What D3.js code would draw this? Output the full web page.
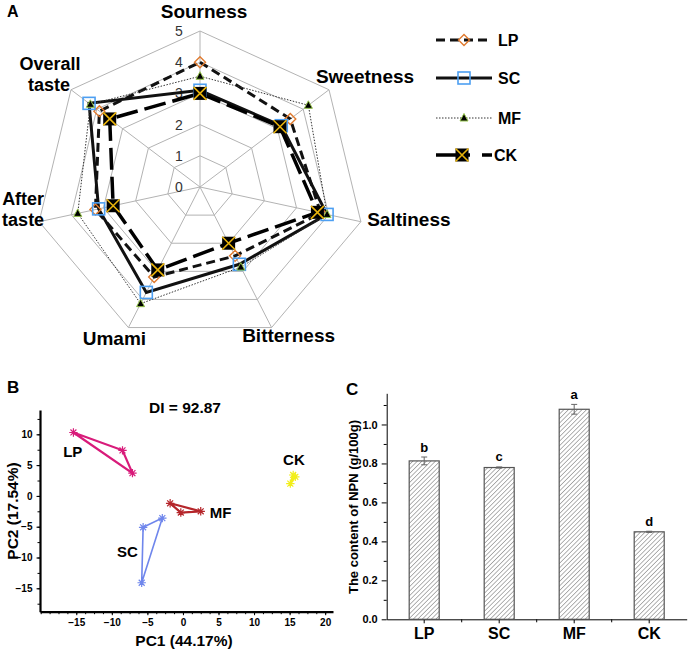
<!DOCTYPE html>
<html>
<head>
<meta charset="utf-8">
<script src="https://cdn.jsdelivr.net/npm/d3@7/dist/d3.min.js"></script>
<style>
body { margin: 0; background: #fff; }
text { font-family: "Liberation Sans", Arial, sans-serif; }
</style>
</head>
<body>
<div id="fig"></div>
<script>
// ---- data ----
var tasteAxes = ["Sourness", "Sweetness", "Saltiness", "Bitterness", "Umami", "After taste", "Overall taste"];
var radarTicks = [0, 1, 2, 3, 4, 5];
var tasteLP = [4.0, 3.5, 3.75, 2.45, 3.2, 3.25, 3.9];
var tasteSC = [3.1, 3.15, 3.95, 2.75, 3.75, 3.15, 4.3];
var tasteMF = [3.55, 4.2, 3.95, 2.85, 4.15, 3.8, 4.25];
var tasteCK = [3.0, 3.1, 3.65, 2.0, 2.95, 2.7, 3.5];

var pcaLP = [[-15.4, 10.3], [-8.5, 7.4], [-7.1, 3.7]];
var pcaSC = [[-5.6, -5.1], [-2.9, -3.6], [-5.8, -14.1]];
var pcaMF = [[-1.8, -1.2], [-0.3, -2.7], [2.5, -2.5]];
var pcaCK = [[15.1, 2.0], [15.8, 3.1], [15.5, 3.4]];
var pcaXTicks = [-15, -10, -5, 0, 5, 10, 15, 20];
var pcaYTicks = [-15, -10, -5, 0, 5, 10];

var groups = ["LP", "SC", "MF", "CK"];
var npn = [0.813, 0.779, 1.078, 0.449];
var npnErr = [0.02, 0.003, 0.025, 0.003];
var npnLetters = ["b", "c", "a", "d"];
var npnTicks = [0, 0.2, 0.4, 0.6, 0.8, 1.0];

var svg = d3.select("#fig").append("svg")
    .attr("width", 689)
    .attr("height", 652);

// ================= A : radar =================
var cx = 200, cy = 187, rx = 165, ry = 156;
var rScale = d3.scaleLinear().domain([0, 5]).range([0, 1]);

function pt(i, v) {
  var a = i * 2 * Math.PI / 7;
  return [cx + rx * rScale(v) * Math.sin(a), cy - ry * rScale(v) * Math.cos(a)];
}

var gA = svg.append("g");

// rings
radarTicks.slice(1).forEach(function(t) {
  gA.append("polygon")
    .attr("points", tasteAxes.map(function(d, i) { return pt(i, t).join(","); }).join(" "))
    .attr("fill", "none")
    .attr("stroke", "#b3b3b3")
    .attr("stroke-width", 1);
});
// spokes
tasteAxes.forEach(function(d, i) {
  var p = pt(i, 5);
  gA.append("line")
    .attr("x1", cx).attr("y1", cy)
    .attr("x2", p[0]).attr("y2", p[1])
    .attr("stroke", "#b3b3b3")
    .attr("stroke-width", 1);
});
// tick labels
gA.selectAll(".rtick")
  .data(radarTicks)
  .enter().append("text")
  .attr("x", cx - 21)
  .attr("y", function(d) { return pt(0, d)[1] + 5; })
  .attr("text-anchor", "middle")
  .style("font-size", "14px")
  .style("fill", "#333")
  .text(function(d) { return d; });

// axis labels (offsets from outer vertex)
var labelOff = [
  [{dx: 4, dy: -13, t: "Sourness"}],
  [{dx: 36, dy: -7, t: "Sweetness"}],
  [{dx: 48, dy: 4, t: "Saltiness"}],
  [{dx: 17, dy: 14, t: "Bitterness"}],
  [{dx: -14, dy: 17, t: "Umami"}],
  [{dx: -16, dy: -17, t: "After"}, {dx: -16, dy: 4, t: "taste"}],
  [{dx: -21, dy: -20, t: "Overall"}, {dx: -22, dy: 1, t: "taste"}]
];
tasteAxes.forEach(function(d, i) {
  var p = pt(i, 5);
  labelOff[i].forEach(function(o) {
    gA.append("text")
      .attr("x", p[0] + o.dx)
      .attr("y", p[1] + o.dy)
      .attr("text-anchor", "middle")
      .style("font-size", labelOff[i].length > 1 ? "18px" : "19px")
      .style("font-weight", "bold")
      .text(o.t);
  });
});

var series = [
  {name: "LP", values: tasteLP, dash: "9,5", width: 3, color: "#111", marker: "diamond"},
  {name: "SC", values: tasteSC, dash: null, width: 3, color: "#111", marker: "square"},
  {name: "MF", values: tasteMF, dash: "1.5,1.5", width: 1, color: "#333", marker: "triangle"},
  {name: "CK", values: tasteCK, dash: "22,7", width: 3.5, color: "#000", marker: "cross"}
];

function drawMarker(g, type, x, y) {
  if (type == "diamond") {
    g.append("path")
      .attr("d", "M" + x + "," + (y - 5.5) + "L" + (x + 5.5) + "," + y + "L" + x + "," + (y + 5.5) + "L" + (x - 5.5) + "," + y + "Z")
      .attr("fill", "none")
      .attr("stroke", "#e07a2e")
      .attr("stroke-width", 1.4);
  } else if (type == "square") {
    g.append("rect")
      .attr("x", x - 6).attr("y", y - 6)
      .attr("width", 12).attr("height", 12)
      .attr("fill", "none")
      .attr("stroke", "#4d9ff2")
      .attr("stroke-width", 1.6);
  } else if (type == "triangle") {
    g.append("path")
      .attr("d", "M" + x + "," + (y - 4.5) + "L" + (x + 4) + "," + (y + 3) + "L" + (x - 4) + "," + (y + 3) + "Z")
      .attr("fill", "#000")
      .attr("stroke", "#94c34a")
      .attr("stroke-width", 1);
  } else {
    g.append("rect")
      .attr("x", x - 6.5).attr("y", y - 6.5)
      .attr("width", 13).attr("height", 13)
      .attr("fill", "#000");
    g.append("path")
      .attr("d", "M" + (x - 6.5) + "," + (y - 6.5) + "L" + (x + 6.5) + "," + (y + 6.5) + "M" + (x + 6.5) + "," + (y - 6.5) + "L" + (x - 6.5) + "," + (y + 6.5))
      .attr("stroke", "#e8b30c")
      .attr("stroke-width", 1.6);
  }
}

var radarLine = d3.line().curve(d3.curveLinearClosed);

series.forEach(function(s) {
  var pts = s.values.map(function(v, i) { return pt(i, v); });
  gA.append("path")
    .attr("d", radarLine(pts))
    .attr("fill", "none")
    .attr("stroke", s.color)
    .attr("stroke-width", s.width)
    .attr("stroke-dasharray", s.dash);
});
series.forEach(function(s) {
  s.values.forEach(function(v, i) {
    var p = pt(i, v);
    drawMarker(gA, s.marker, p[0], p[1]);
  });
});

// legend
var legY = [40, 78, 118, 155];
series.forEach(function(s, i) {
  var y = legY[i];
  gA.append("line")
    .attr("x1", 436).attr("x2", 492)
    .attr("y1", y).attr("y2", y)
    .attr("stroke", s.color)
    .attr("stroke-width", s.width)
    .attr("stroke-dasharray", s.name == "CK" ? "34,12" : s.dash);
  drawMarker(gA, s.marker, s.name == "CK" ? 462 : 464, y);
  gA.append("text")
    .attr("x", s.name == "CK" ? 494 : 498)
    .attr("y", y + 6)
    .style("font-size", "16px")
    .style("font-weight", "bold")
    .text(s.name);
});

svg.append("text").attr("x", 7).attr("y", 17)
  .style("font-size", "16px").style("font-weight", "bold").text("A");

// ================= B : PCA =================
var gB = svg.append("g");
var xB = d3.scaleLinear().domain([-20.1, 21.1]).range([40, 333]);
var yB = d3.scaleLinear().domain([-18.8, 13.95]).range([611.7, 410]);

gB.append("g")
  .attr("transform", "translate(0,611.7)")
  .call(d3.axisBottom(xB).tickValues(d3.range(-20, 21.1, 1.25)).tickSize(2.5).tickFormat(""))
  .call(function(g) { g.select(".domain").remove(); });
gB.append("g")
  .attr("transform", "translate(40,0)")
  .call(d3.axisLeft(yB).tickValues(d3.range(-17.5, 13.9, 2.5)).tickSize(2.5).tickFormat(""))
  .call(function(g) { g.select(".domain").remove(); });

var axB = gB.append("g")
  .attr("transform", "translate(0,611.7)")
  .call(d3.axisBottom(xB).tickValues(pcaXTicks).tickSize(3.5).tickPadding(4).tickSizeOuter(0));
var ayB = gB.append("g")
  .attr("transform", "translate(40,0)")
  .call(d3.axisLeft(yB).tickValues(pcaYTicks).tickSize(3.5).tickPadding(4).tickSizeOuter(0));
[axB, ayB].forEach(function(a) {
  a.select(".domain").attr("stroke-width", 2.2);
  a.selectAll("text").style("font-size", "10px").style("font-weight", "bold").style("fill", "#000");
  a.selectAll(".tick line").attr("stroke-width", 1);
});

var pcaSets = [
  {name: "LP", pts: pcaLP, color: "#d81b7a", w: 2.2, lab: [-15.5, 6.3]},
  {name: "SC", pts: pcaSC, color: "#6f86ec", w: 1.6, lab: [-7.8, -9.9]},
  {name: "MF", pts: pcaMF, color: "#b5262b", w: 2.2, lab: [5.3, -3.6]},
  {name: "CK", pts: pcaCK, color: "#f2ee1a", w: 2, lab: [15.6, 5.0]}
];
var pcaLine = d3.line()
  .x(function(d) { return xB(d[0]); })
  .y(function(d) { return yB(d[1]); })
  .curve(d3.curveLinearClosed);

pcaSets.forEach(function(s) {
  gB.append("path")
    .attr("d", pcaLine(s.pts))
    .attr("fill", "none")
    .attr("stroke", s.color)
    .attr("stroke-width", s.w);
  s.pts.forEach(function(d) {
    var x = xB(d[0]), y = yB(d[1]), r = 4.2;
    var p = "";
    for (var k = 0; k < 4; k++) {
      var a = k * Math.PI / 4;
      p += "M" + (x - r * Math.cos(a)) + "," + (y - r * Math.sin(a)) + "L" + (x + r * Math.cos(a)) + "," + (y + r * Math.sin(a));
    }
    gB.append("path")
      .attr("d", p)
      .attr("stroke", s.color)
      .attr("stroke-width", 1.2);
  });
  gB.append("text")
    .attr("x", xB(s.lab[0]))
    .attr("y", yB(s.lab[1]))
    .attr("text-anchor", "middle")
    .style("font-size", "15px")
    .style("font-weight", "bold")
    .text(s.name);
});

gB.append("text").attr("x", 185).attr("y", 413).attr("text-anchor", "middle")
  .style("font-size", "15.5px").style("font-weight", "bold").text("DI = 92.87");
gB.append("text").attr("x", 184).attr("y", 646).attr("text-anchor", "middle")
  .style("font-size", "15.5px").style("font-weight", "bold").text("PC1 (44.17%)");
gB.append("text").attr("transform", "translate(18,511) rotate(-90)").attr("text-anchor", "middle")
  .style("font-size", "15.5px").style("font-weight", "bold").text("PC2 (17.54%)");
svg.append("text").attr("x", 7).attr("y", 393)
  .style("font-size", "17px").style("font-weight", "bold").text("B");

// ================= C : NPN bars =================
var gC = svg.append("g");
var defs = svg.append("defs");
defs.append("pattern")
  .attr("id", "hatch")
  .attr("patternUnits", "userSpaceOnUse")
  .attr("width", 3.2).attr("height", 3.2)
  .attr("patternTransform", "rotate(45)")
  .append("line")
  .attr("x1", 0).attr("y1", 0).attr("x2", 0).attr("y2", 3.2)
  .attr("stroke", "#666")
  .attr("stroke-width", 1);

var xC = d3.scaleBand().domain(groups).range([386.7, 686.7]).paddingInner(0.6).paddingOuter(0.3);
var yC = d3.scaleLinear().domain([0, 1.16]).range([619.3, 393.3]);

gC.append("g")
  .attr("transform", "translate(386.7,0)")
  .call(d3.axisLeft(yC).tickValues(d3.range(0.1, 1.15, 0.2)).tickSize(3).tickFormat(""))
  .call(function(g) { g.select(".domain").remove(); });
var ayC = gC.append("g")
  .attr("transform", "translate(386.7,0)")
  .call(d3.axisLeft(yC).tickValues(npnTicks).tickSize(5).tickPadding(4).tickSizeOuter(0).tickFormat(d3.format(".1f")));
ayC.selectAll("text").style("font-size", "11px").style("font-weight", "bold").style("fill", "#000");

var step = xC.step();
gC.append("g")
  .attr("transform", "translate(0,619.3)")
  .selectAll("line")
  .data(d3.range(1, 4))
  .enter().append("line")
  .attr("x1", function(d) { return 386.7 + d * step; })
  .attr("x2", function(d) { return 386.7 + d * step; })
  .attr("y1", 0).attr("y2", 3)
  .attr("stroke", "#000");

var axC = gC.append("g")
  .attr("transform", "translate(0,619.3)")
  .call(d3.axisBottom(xC).tickSize(4).tickPadding(4).tickSizeOuter(0));
axC.selectAll("text").style("font-size", "16px").style("font-weight", "bold").style("fill", "#000");

gC.selectAll(".bar")
  .data(groups)
  .enter().append("rect")
  .attr("x", function(d) { return xC(d); })
  .attr("y", function(d, i) { return yC(npn[i]); })
  .attr("width", xC.bandwidth())
  .attr("height", function(d, i) { return yC(0) - yC(npn[i]); })
  .attr("fill", "url(#hatch)")
  .attr("stroke", "#555")
  .attr("stroke-width", 1.2);

groups.forEach(function(d, i) {
  var x = xC(d) + xC.bandwidth() / 2;
  var y1 = yC(npn[i] + npnErr[i]), y0 = yC(npn[i] - npnErr[i]);
  gC.append("path")
    .attr("d", "M" + x + "," + y0 + "L" + x + "," + y1 + "M" + (x - 3) + "," + y1 + "L" + (x + 3) + "," + y1 + "M" + (x - 3) + "," + y0 + "L" + (x + 3) + "," + y0)
    .attr("stroke", "#666")
    .attr("stroke-width", 1);
  gC.append("text")
    .attr("x", x)
    .attr("y", y1 - 5.5)
    .attr("text-anchor", "middle")
    .style("font-size", "13px")
    .style("font-weight", "bold")
    .text(npnLetters[i]);
});

gC.append("text").attr("transform", "translate(358,507) rotate(-90)").attr("text-anchor", "middle")
  .style("font-size", "13px").style("font-weight", "bold").text("The content of NPN (g/100g)");
svg.append("text").attr("x", 346).attr("y", 395)
  .style("font-size", "17px").style("font-weight", "bold").text("C");
</script>
</body>
</html>
